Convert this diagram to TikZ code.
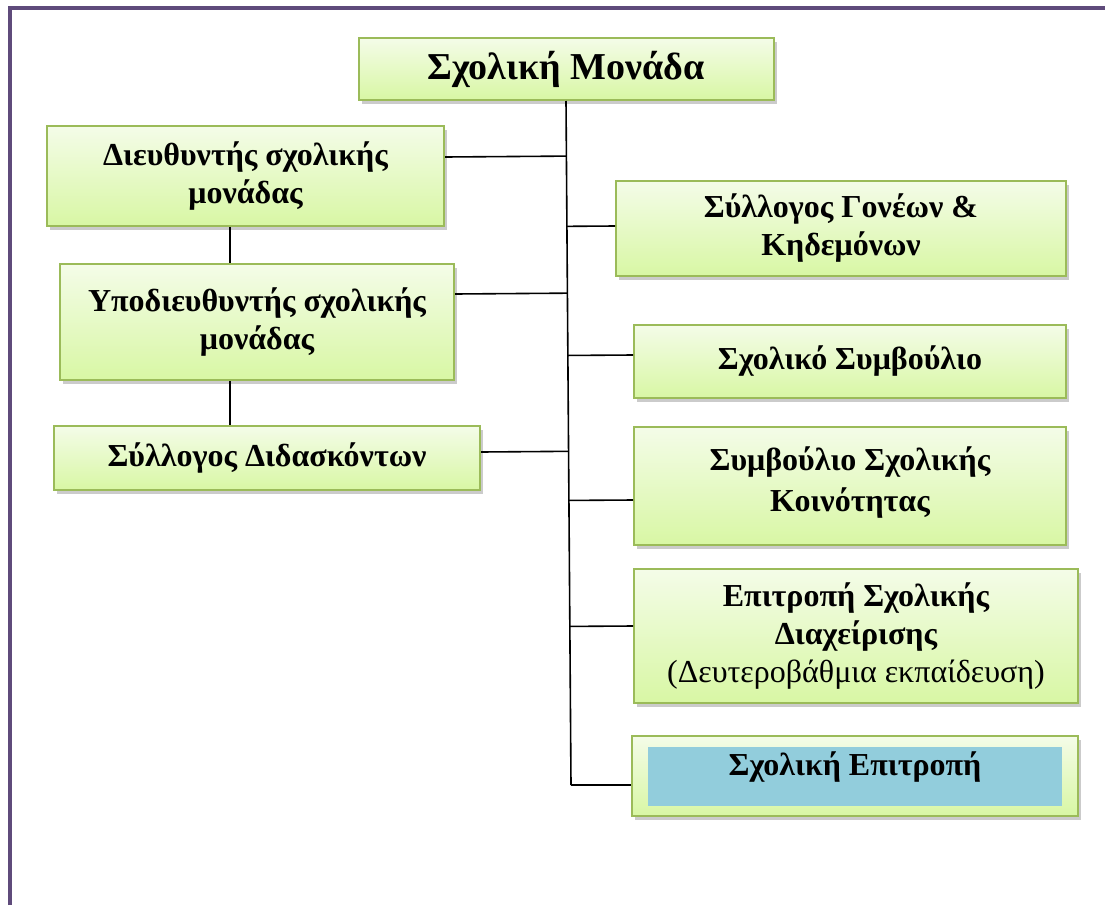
\documentclass[tikz,border=0pt]{standalone}
\usepackage{fontspec}
\setmainfont{Liberation Serif}
\usetikzlibrary{calc,shadows}
\definecolor{frameviolet}{HTML}{5F4B7B}
\definecolor{boxedge}{HTML}{9BBB59}
\definecolor{boxtop}{HTML}{F4FCE8}
\definecolor{boxbot}{HTML}{D8F7A4}
\definecolor{bandblue}{HTML}{92CDDC}
\tikzset{
  orgbox/.style={draw=boxedge,line width=2pt,top color=boxtop,bottom color=boxbot,align=center,inner sep=0pt,
    font=\fontsize{32}{38}\selectfont\bfseries,
    drop shadow={shadow xshift=3pt,shadow yshift=-4pt,fill=black!45,opacity=.45}},
  band/.style={fill=bandblue,inner sep=0pt},
  link/.style={line width=1.6pt,black},
  frameline/.style={line width=4pt,frameviolet}
}
\begin{document}
\begin{tikzpicture}[x=1pt,y=-1pt]
  \useasboundingbox (0,0) rectangle (1105,905);
  % frame
  \draw[frameline] (10,905) -- (10,8) -- (1105,8);

  % top and left column
  \node[orgbox,minimum width=415,minimum height=62,font=\fontsize{38}{42}\selectfont\bfseries] (mon) at (566,69) {Σχολική Μονάδα};
  \node[orgbox,minimum width=397,minimum height=100] (dir) at (245.5,176) {Διευθυντής σχολικής\\μονάδας};
  \node[orgbox,minimum width=394,minimum height=116] (sub) at (257,322) {Υποδιευθυντής σχολικής\\μονάδας};
  \node[orgbox,minimum width=426,minimum height=64] (tch) at (267,458) {Σύλλογος Διδασκόντων};

  % right column
  \node[orgbox,minimum width=450,minimum height=95] (par) at (841,228.5) {Σύλλογος Γονέων \&\\Κηδεμόνων};
  \node[orgbox,minimum width=432,minimum height=73] (cnc) at (850,361.5) {Σχολικό Συμβούλιο};
  \node[orgbox,minimum width=432,minimum height=118] (com) at (850,486) {Συμβούλιο Σχολικής\\[3pt]Κοινότητας\\[-25pt]\mbox{}};
  \node[orgbox,minimum width=444,minimum height=134] (mgt) at (856,636) {Επιτροπή Σχολικής\\Διαχείρισης\\{\mdseries(Δευτεροβάθμια εκπαίδευση)}};
  \node[orgbox,minimum width=446,minimum height=80] (sce) at (855,776) {};
  \node[band,minimum width=414,minimum height=59] (sceband) at (sce.center) {};
  \node[font=\fontsize{32}{38}\selectfont\bfseries] (scetxt) at (855,767) {Σχολική Επιτροπή};

  % trunk
  \coordinate (trunkend) at (571,785);
  \draw[link] (mon.south) -- (trunkend);

  % left branches
  \draw[link] ([yshift=19pt]dir.east) coordinate (a1) -- ($(mon.south)!(a1)!(trunkend)$);
  \draw[link] ([yshift=28pt]sub.east) coordinate (a2) -- ($(mon.south)!(a2)!(trunkend)$);
  \draw[link] ([yshift=6pt]tch.east) coordinate (a3) -- ($(mon.south)!(a3)!(trunkend)$);
  \draw[link] ([xshift=-15.5pt]dir.south) -- ([xshift=-15.5pt]dir.south |- sub.north);
  \draw[link] ([xshift=-27pt]sub.south) -- ([xshift=-27pt]sub.south |- tch.north);

  % right branches
  \draw[link] ([yshift=2.5pt]par.west) coordinate (b1) -- ($(mon.south)!(b1)!(trunkend)$);
  \draw[link] ([yshift=6.5pt]cnc.west) coordinate (b2) -- ($(mon.south)!(b2)!(trunkend)$);
  \draw[link] ([yshift=-14pt]com.west) coordinate (b3) -- ($(mon.south)!(b3)!(trunkend)$);
  \draw[link] ([yshift=10pt]mgt.west) coordinate (b4) -- ($(mon.south)!(b4)!(trunkend)$);
  \draw[link] (trunkend) -- (trunkend -| sce.west);
\end{tikzpicture}
\end{document}
